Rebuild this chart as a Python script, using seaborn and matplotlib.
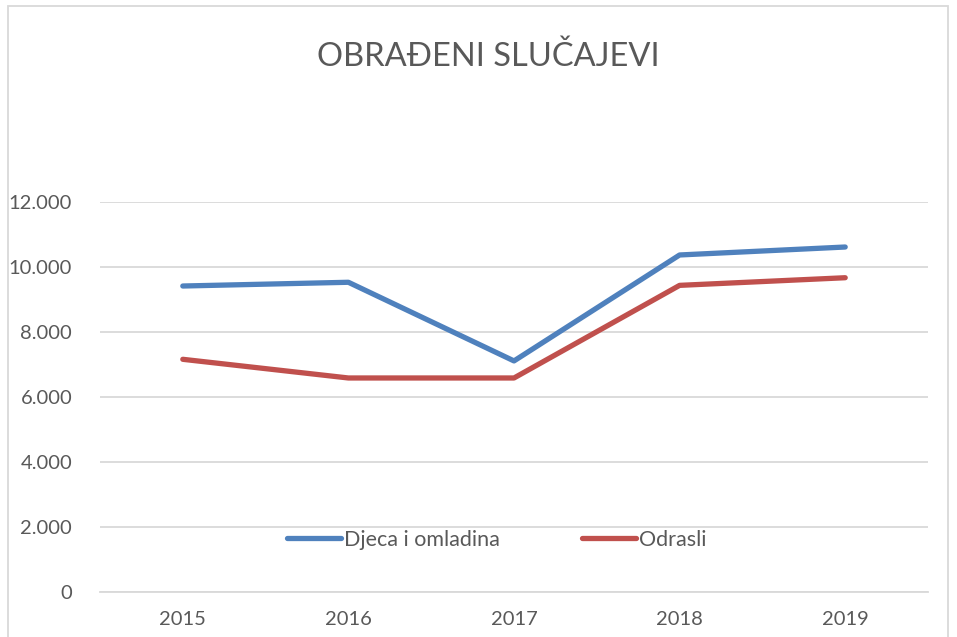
import matplotlib
matplotlib.use("Agg")
import matplotlib.pyplot as plt
import seaborn as sns
import pandas as pd
from matplotlib.patches import Rectangle

years = ["2015", "2016", "2017", "2018", "2019"]
djeca = [9415, 9530, 7110, 10370, 10615]
odrasli = [7160, 6585, 6585, 9435, 9670]
series_names = ["Djeca i omladina", "Odrasli"]
yticks = [0, 2000, 4000, 6000, 8000, 10000, 12000]
ytick_labels = ["0", "2.000", "4.000", "6.000", "8.000", "10.000", "12.000"]

df = pd.DataFrame({
    "Godina": years * 2,
    "Vrijednost": djeca + odrasli,
    "Serija": [series_names[0]] * len(years) + [series_names[1]] * len(years),
})

sns.set_style("white")
plt.rcParams["font.family"] = ["Lato", "DejaVu Sans"]

fig = plt.figure(figsize=(9.57, 6.37), dpi=100)
ax = fig.add_axes([100 / 957, 45 / 637, 828 / 957, 390 / 637])

sns.lineplot(data=df, x="Godina", y="Vrijednost", hue="Serija",
             palette=["#4F81BD", "#C0504D"], linewidth=3.8, ax=ax,
             sort=False, legend=True)
for ln in ax.lines:
    ln.set_solid_capstyle("round")
    ln.set_solid_joinstyle("round")

ax.set_xlim(-0.5, 4.5)
ax.set_ylim(0, 12000)
ax.set_yticks(yticks)
ax.set_yticklabels(ytick_labels)
ax.yaxis.grid(True, color="#D9D9D9", linewidth=1.3)
ax.set_axisbelow(True)
for s in ax.spines.values():
    s.set_visible(False)
ax.spines["bottom"].set_visible(True)
ax.spines["bottom"].set_color("#D9D9D9")
ax.spines["bottom"].set_linewidth(1.3)
ax.tick_params(axis="both", length=0, labelsize=14.5, colors="#595959")
ax.tick_params(axis="y", pad=20)
ax.tick_params(axis="x", pad=14)
ax.set_xlabel("")
ax.set_ylabel("")

handles, labels = ax.get_legend_handles_labels()
leg = ax.legend(handles, labels, loc="center", bbox_to_anchor=(497 / 957, 1 - 540 / 637),
                bbox_transform=fig.transFigure, ncol=2, frameon=False,
                fontsize=15.5, handlelength=2.5, handletextpad=0.15, columnspacing=3.8)
for t in leg.get_texts():
    t.set_color("#595959")
for lh in leg.get_lines():
    lh.set_linewidth(3.8)

fig.text(488 / 957, 1 - 57 / 637, "OBRAĐENI SLUČAJEVI", ha="center", va="center",
         fontsize=23.5, color="#595959")

fig.patches.append(Rectangle((8 / 957, -0.01), 940 / 957, 1.0, transform=fig.transFigure,
                             fill=False, edgecolor="#D9D9D9", linewidth=1.3))

fig.savefig("out.png", dpi=100)
